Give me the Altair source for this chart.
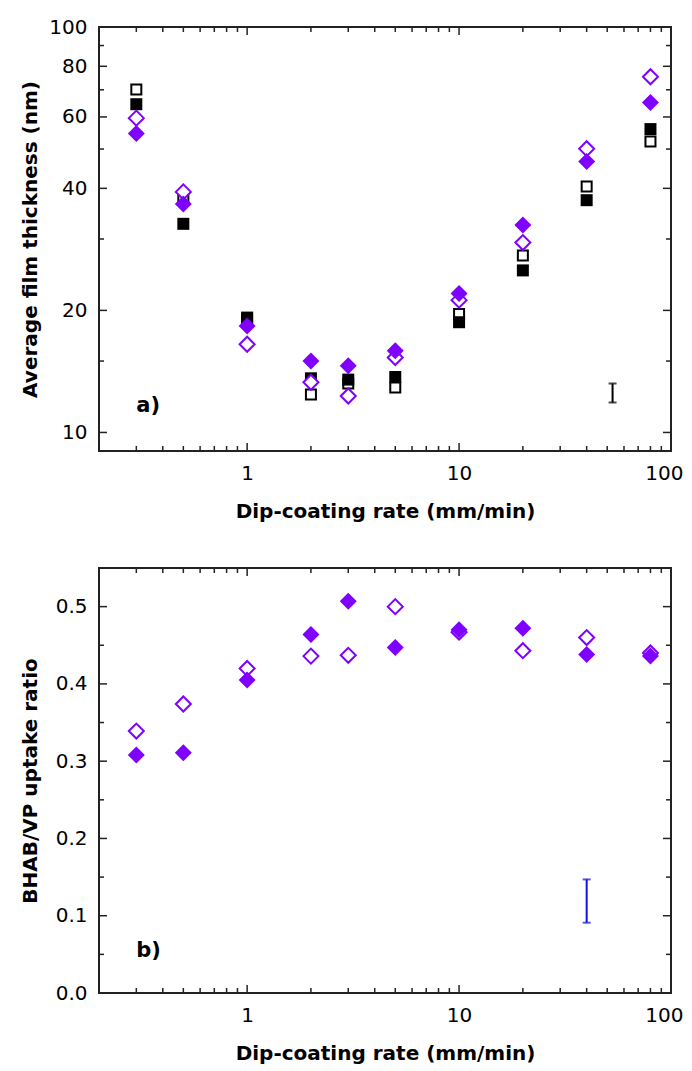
import altair as alt
import pandas as pd

# ---------------- data ----------------
RATE = [0.3, 0.5, 1, 2, 3, 5, 10, 20, 40, 80]

THK_SQ_FILLED = [64.5, 32.7, 19.2, 13.6, 13.5, 13.7, 18.7, 25.1, 37.4, 56.0]
THK_SQ_OPEN = [70.1, 37.7, 19.0, 12.4, 13.2, 12.9, 19.6, 27.3, 40.4, 52.2]
THK_DI_OPEN = [59.6, 39.2, 16.5, 13.3, 12.3, 15.3, 21.2, 29.4, 50.1, 75.4]
THK_DI_FILLED = [54.6, 36.6, 18.3, 15.0, 14.6, 15.9, 22.0, 32.5, 46.6, 65.1]

RATIO_OPEN = [0.339, 0.374, 0.420, 0.436, 0.437, 0.500, 0.467, 0.443, 0.460, 0.440]
RATIO_FILLED = [0.308, 0.311, 0.405, 0.464, 0.507, 0.447, 0.470, 0.472, 0.438, 0.436]

ERR_A_X = [53]
ERR_A_LO = [11.85]
ERR_A_HI = [13.2]
ERR_B_X = [40]
ERR_B_LO = [0.091]
ERR_B_HI = [0.147]

X_TICK_LABELS = [1, 10, 100]
X_MAJOR = [1, 10]
X_MINOR = [0.3, 0.4, 0.5, 0.6, 0.7, 0.8, 0.9, 2, 3, 4, 5, 6, 7, 8, 9,
           20, 30, 40, 50, 60, 70, 80, 90]
YA_TICK_LABELS = [10, 20, 40, 60, 80, 100]
YA_MAJOR = [10, 20, 40, 60, 80]
YA_MINOR = [15, 30, 50, 70, 90]
YB_TICK_LABELS = [0.0, 0.1, 0.2, 0.3, 0.4, 0.5]
YB_MAJOR = [0.1, 0.2, 0.3, 0.4, 0.5]
YB_MINOR = [0.05, 0.15, 0.25, 0.35, 0.45]

PANEL_A = ["a)"]
PANEL_A_X = [0.3]
PANEL_A_Y = [11.6]
PANEL_B = ["b)"]
PANEL_B_X = [0.3]
PANEL_B_Y = [0.054]

X_TITLE = "Dip-coating rate (mm/min)"
YA_TITLE = "Average film thickness (nm)"
YB_TITLE = "BHAB/VP uptake ratio"

# ---------------- style ----------------
PURPLE = "#7F00FF"
FRAME = "#222222"
FONT = "DejaVu Sans"
W = 572
H1 = 424
H2 = 425
MAJ = 8
MIN = 5

xscale = alt.Scale(type="log", domain=[0.2, 100], nice=False)
ya_scale = alt.Scale(type="log", domain=[9, 100], nice=False)
yb_scale = alt.Scale(domain=[0, 0.55], nice=False, zero=False)

X_AXIS = alt.Axis(values=X_TICK_LABELS, format="~g", ticks=False, domain=False,
                  grid=False, labelPadding=12, labelFontSize=20, labelFont=FONT,
                  labelColor="black", labelFlush=True, labelFlushOffset=12,
                  labelOverlap=False,
                  title=X_TITLE, titleFont=FONT,
                  titleFontSize=20, titleFontWeight="bold", titlePadding=18,
                  titleColor="black")


def make_y_axis(values, fmt, title):
    return alt.Axis(values=values, format=fmt, ticks=False, domain=False, grid=False,
                    labelPadding=12, labelFontSize=20, labelFont=FONT,
                    labelColor="black", labelFlush=False, labelOverlap=False,
                    title=title, titleFont=FONT,
                    titleFontSize=20, titleFontWeight="bold", titlePadding=9,
                    titleColor="black", minExtent=50, maxExtent=50)


YA_AXIS = make_y_axis(YA_TICK_LABELS, "~g", YA_TITLE)
YB_AXIS = make_y_axis(YB_TICK_LABELS, ".1f", YB_TITLE)


def X(field):
    return alt.X(field, scale=xscale, axis=X_AXIS)


def Y(field, yscale, yaxis):
    return alt.Y(field, scale=yscale, axis=yaxis)


def series(vals, yscale, yaxis, shape, filled, color, size):
    df = pd.DataFrame({"rate": RATE, "v": vals})
    if filled:
        mk = alt.Chart(df).mark_point(shape=shape, filled=True, color=color,
                                      size=size, opacity=1)
    else:
        mk = alt.Chart(df).mark_point(shape=shape, filled=True, fill="white",
                                      stroke=color, strokeWidth=2, size=size,
                                      opacity=1)
    return mk.encode(x=X("rate:Q"), y=Y("v:Q", yscale, yaxis))


def xticks(vals, length, height):
    df = pd.DataFrame({"t": vals})
    base = alt.Chart(df).mark_rule(color=FRAME, strokeWidth=1.5)
    bottom = base.encode(x=X("t:Q"), y=alt.value(height), y2=alt.value(height - length))
    top = base.encode(x=X("t:Q"), y=alt.value(0), y2=alt.value(length))
    return [bottom, top]


def yticks(vals, length, yscale, yaxis):
    df = pd.DataFrame({"t": vals})
    base = alt.Chart(df).mark_rule(color=FRAME, strokeWidth=1.5)
    left = base.encode(y=Y("t:Q", yscale, yaxis), x=alt.value(0), x2=alt.value(length))
    right = base.encode(y=Y("t:Q", yscale, yaxis), x=alt.value(W), x2=alt.value(W - length))
    return [left, right]


def errbar(xs, lo, hi, yscale, yaxis, color):
    df = pd.DataFrame({"x": xs, "lo": lo, "hi": hi})
    base = alt.Chart(df)
    rule = base.mark_rule(color=color, strokeWidth=2).encode(
        x=X("x:Q"), y=Y("lo:Q", yscale, yaxis), y2="hi:Q")
    cap1 = base.mark_tick(color=color, orient="horizontal", size=8, thickness=2).encode(
        x=X("x:Q"), y=Y("lo:Q", yscale, yaxis))
    cap2 = base.mark_tick(color=color, orient="horizontal", size=8, thickness=2).encode(
        x=X("x:Q"), y=Y("hi:Q", yscale, yaxis))
    return [rule, cap1, cap2]


def panel_label(txt, xs, ys, yscale, yaxis):
    df = pd.DataFrame({"x": xs, "y": ys, "t": txt})
    return alt.Chart(df).mark_text(align="left", baseline="middle", fontSize=21,
                                   fontWeight="bold", font=FONT, color="black").encode(
        x=X("x:Q"), y=Y("y:Q", yscale, yaxis), text="t:N")


# ---------------- panel a ----------------
layers_a = [
    series(THK_SQ_OPEN, ya_scale, YA_AXIS, "square", False, "black", 100),
    series(THK_SQ_FILLED, ya_scale, YA_AXIS, "square", True, "black", 144),
    series(THK_DI_OPEN, ya_scale, YA_AXIS, "diamond", False, PURPLE, 225),
    series(THK_DI_FILLED, ya_scale, YA_AXIS, "diamond", True, PURPLE, 289),
]
layers_a += xticks(X_MAJOR, MAJ, H1) + xticks(X_MINOR, MIN, H1)
layers_a += yticks(YA_MAJOR, MAJ, ya_scale, YA_AXIS) + yticks(YA_MINOR, MIN, ya_scale, YA_AXIS)
layers_a += errbar(ERR_A_X, ERR_A_LO, ERR_A_HI, ya_scale, YA_AXIS, "black")
layers_a.append(panel_label(PANEL_A, PANEL_A_X, PANEL_A_Y, ya_scale, YA_AXIS))
panel_a = alt.layer(*layers_a).properties(width=W, height=H1)

# ---------------- panel b ----------------
layers_b = [
    series(RATIO_OPEN, yb_scale, YB_AXIS, "diamond", False, PURPLE, 225),
    series(RATIO_FILLED, yb_scale, YB_AXIS, "diamond", True, PURPLE, 289),
]
layers_b += xticks(X_MAJOR, MAJ, H2) + xticks(X_MINOR, MIN, H2)
layers_b += yticks(YB_MAJOR, MAJ, yb_scale, YB_AXIS) + yticks(YB_MINOR, MIN, yb_scale, YB_AXIS)
layers_b += errbar(ERR_B_X, ERR_B_LO, ERR_B_HI, yb_scale, YB_AXIS, "#1010EE")
layers_b.append(panel_label(PANEL_B, PANEL_B_X, PANEL_B_Y, yb_scale, YB_AXIS))
panel_b = alt.layer(*layers_b).properties(width=W, height=H2)

chart = alt.vconcat(panel_a, panel_b, spacing=44).properties(
    padding={"top": 8, "left": 11, "right": 0, "bottom": 5},
    background="white",
).configure_view(stroke=FRAME, strokeWidth=2)

chart.save("out.html", embed_options={"renderer": "svg", "actions": False})
